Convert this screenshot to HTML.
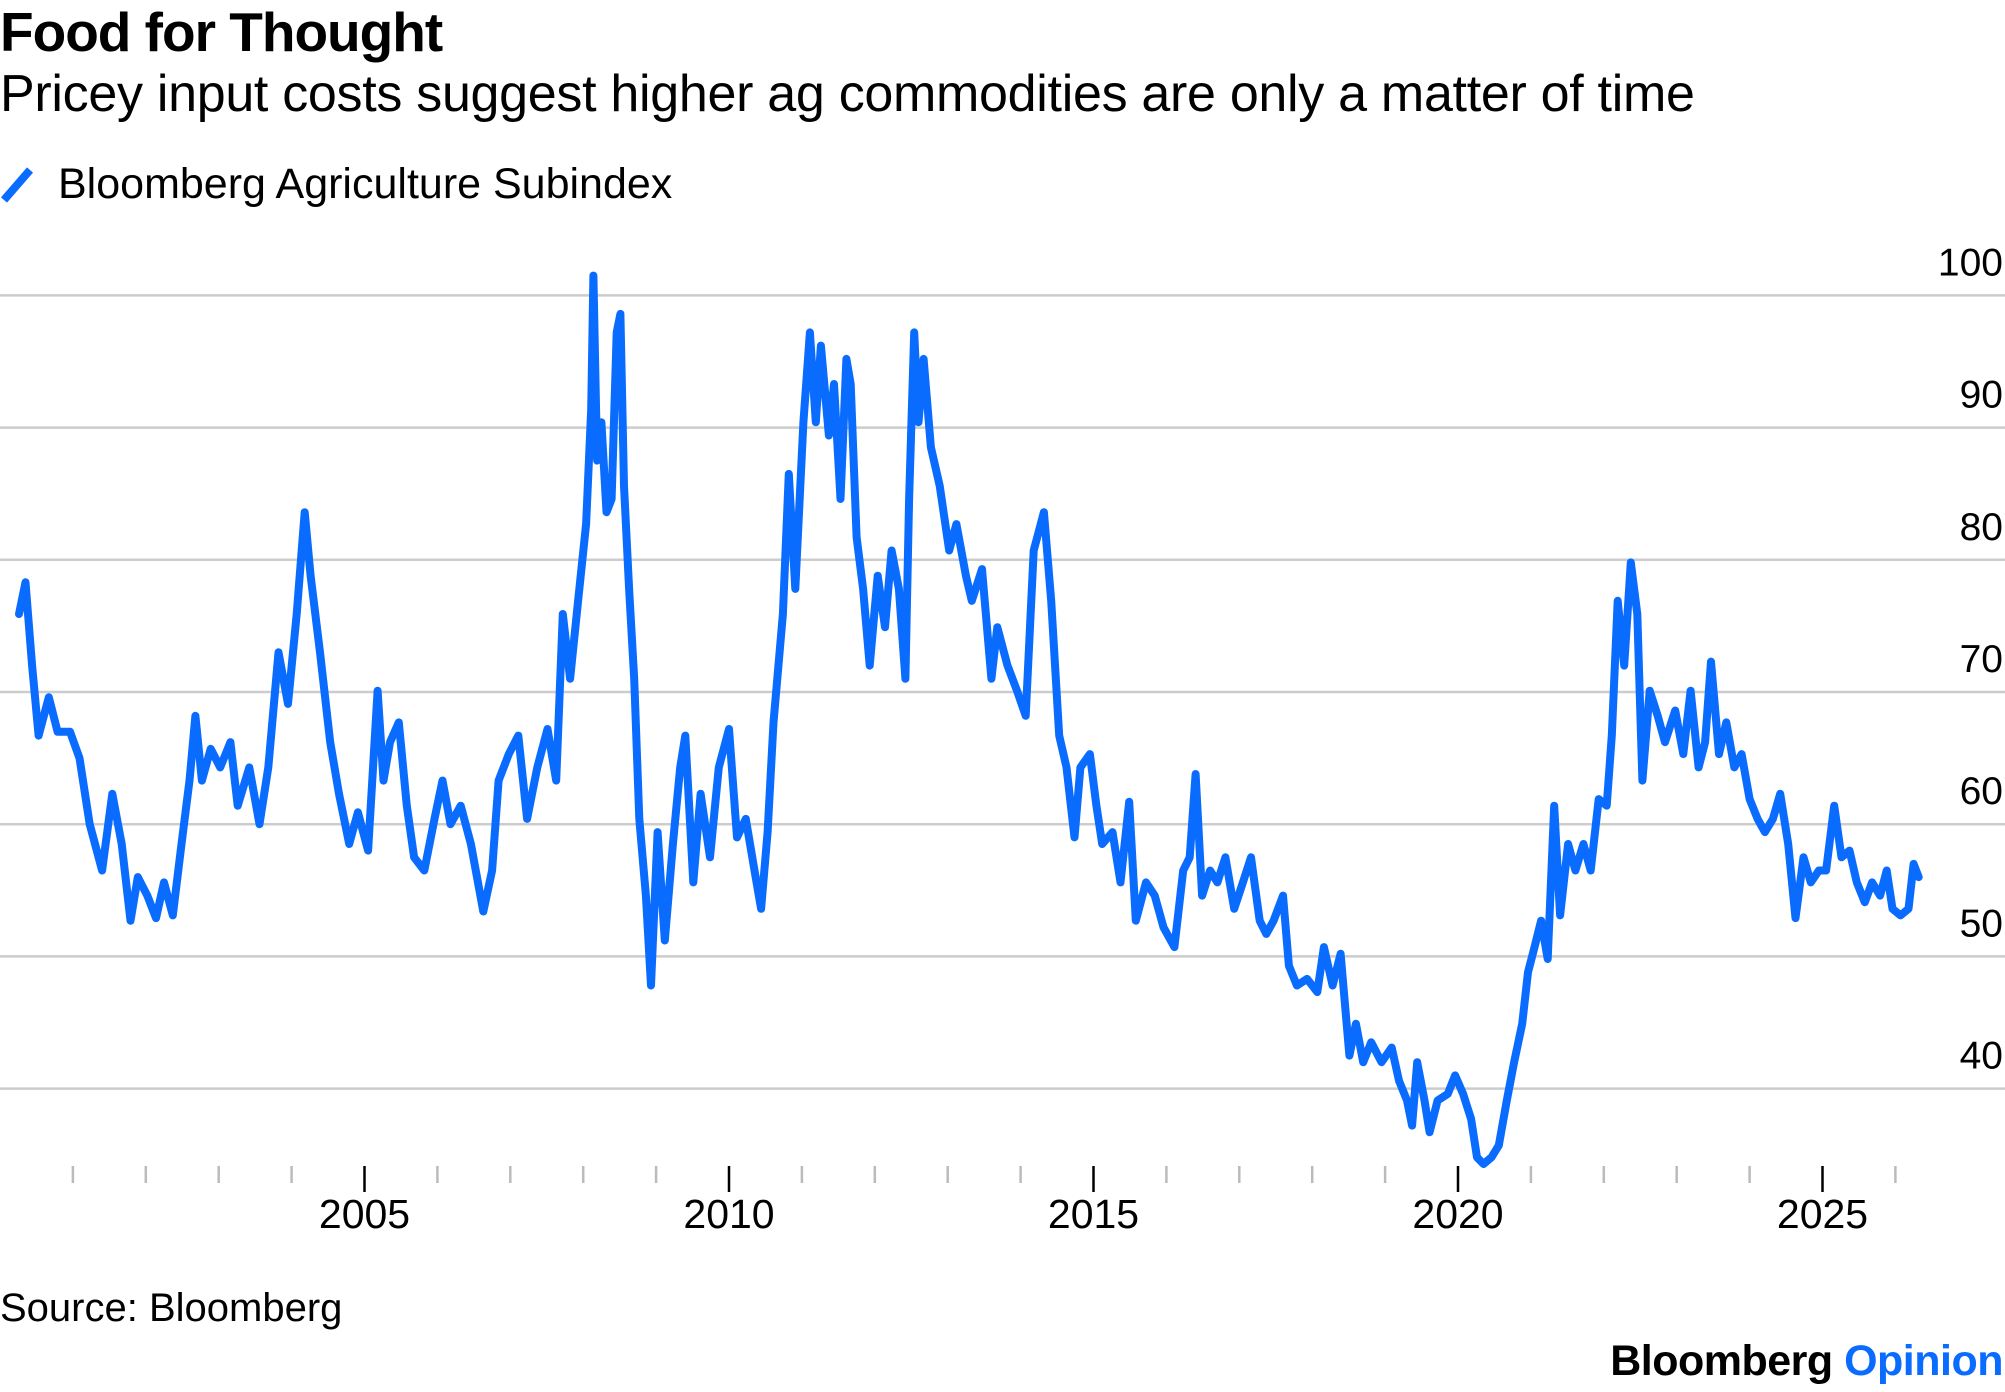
<!DOCTYPE html>
<html><head><meta charset="utf-8">
<style>
html,body{margin:0;padding:0;background:#fff;}
body{width:2005px;height:1392px;overflow:hidden;position:relative;font-family:"Liberation Sans",sans-serif;color:#000;}
.t{position:absolute;white-space:nowrap;}
</style></head><body>
<div class="t" style="left:0;top:0px;font-size:55px;font-weight:bold;letter-spacing:-1px;">Food for Thought</div>
<div class="t" style="left:0;top:64px;font-size:52px;letter-spacing:-0.3px;">Pricey input costs suggest higher ag commodities are only a matter of time</div>
<div class="t" style="left:0;top:160px;font-size:43px;">
<svg width="36" height="40" style="vertical-align:-6px;margin-right:22px"><line x1="4" y1="36" x2="30" y2="6" stroke="#0a6cff" stroke-width="8"/></svg>Bloomberg Agriculture Subindex</div>
<svg id="chart" width="2005" height="1392" style="position:absolute;left:0;top:0"></svg>
<div class="t" style="left:0;top:1286px;font-size:40px;">Source: Bloomberg</div>
<div class="t" style="right:2px;top:1337px;font-size:43px;font-weight:bold;letter-spacing:-0.5px;">Bloomberg <span style="color:#0a6cff">Opinion</span></div>
<script>
const yTicks=[40,50,60,70,80,90,100];
const xMajor=[2005,2010,2015,2020,2025];
const yearOffsets=[.26,.35,.44,.53,.67,.79,.96,1.09,1.23,1.40,1.54,1.67,1.79,1.89,2.02,2.14,2.25,2.37,2.49,2.60,2.68,2.77,2.89,3.02,3.16,3.26,3.42,3.56,3.68,3.82,3.95,4.07,4.18,4.26,4.39,4.53,4.65,4.79,4.91,5.05,5.18,5.26,5.35,5.47,5.58,5.68,5.82,5.96,6.07,6.18,6.32,6.46,6.63,6.75,6.84,6.98,7.11,7.23,7.37,7.51,7.63,7.72,7.82,7.93,8.04,8.11,8.14,8.19,8.25,8.32,8.39,8.46,8.51,8.56,8.63,8.70,8.77,8.86,8.93,9.02,9.12,9.23,9.33,9.40,9.51,9.61,9.74,9.86,10.0,10.11,10.23,10.35,10.44,10.53,10.61,10.74,10.82,10.91,11.02,11.11,11.19,11.26,11.37,11.44,11.53,11.61,11.67,11.75,11.84,11.93,12.04,12.14,12.23,12.33,12.42,12.47,12.54,12.60,12.67,12.77,12.89,13.02,13.12,13.25,13.33,13.47,13.60,13.68,13.82,13.95,14.07,14.18,14.32,14.42,14.53,14.63,14.74,14.82,14.95,15.04,15.12,15.26,15.37,15.49,15.58,15.72,15.84,15.96,16.11,16.23,16.32,16.40,16.49,16.60,16.70,16.81,16.93,17.05,17.16,17.28,17.37,17.47,17.60,17.68,17.79,17.93,18.07,18.16,18.28,18.39,18.51,18.60,18.70,18.81,18.95,19.09,19.19,19.30,19.37,19.44,19.54,19.61,19.72,19.86,19.96,20.07,20.18,20.26,20.35,20.46,20.56,20.67,20.77,20.88,20.96,21.05,21.14,21.23,21.32,21.40,21.51,21.61,21.72,21.82,21.93,22.04,22.11,22.19,22.28,22.37,22.46,22.53,22.63,22.74,22.84,22.98,23.09,23.19,23.30,23.39,23.47,23.58,23.68,23.79,23.89,24.0,24.11,24.21,24.32,24.42,24.53,24.63,24.74,24.84,24.95,25.05,25.16,25.26,25.37,25.47,25.58,25.68,25.79,25.88,25.96,26.07,26.18,26.25,26.32];
const values=[75.9,78.3,72,66.7,69.6,67,67,65,60,56.5,62.3,58.5,52.7,56,54.6,52.9,55.6,53.1,58.5,63.3,68.2,63.3,65.7,64.3,66.2,61.4,64.3,60,64.3,73,69.1,75.9,83.6,78.8,73,66.2,62.3,58.5,60.9,58,70.1,63.3,66.2,67.7,61.4,57.5,56.5,60.4,63.3,60,61.4,58.5,53.4,56.5,63.3,65.3,66.7,60.4,64.3,67.2,63.3,75.9,71,76.9,82.7,91.4,101.5,87.5,90.4,83.6,84.6,97.2,98.6,85.6,77.8,71,60.4,54.6,47.8,59.4,51.2,58.5,64.3,66.7,55.6,62.3,57.5,64.3,67.2,59,60.4,56.5,53.6,59.4,67.7,75.9,86.5,77.8,90.4,97.2,90.4,96.2,89.4,93.3,84.6,95.2,93.3,81.7,77.8,72,78.8,74.9,80.7,77.8,71,84.6,97.2,90.4,95.2,88.5,85.6,80.7,82.7,78.8,76.9,79.3,71,74.9,72,70.1,68.2,80.7,83.6,76.9,66.7,64.3,59,64.3,65.3,61.4,58.5,59.4,55.6,61.7,52.7,55.6,54.6,52.2,50.7,56.5,57.5,63.8,54.6,56.5,55.6,57.5,53.6,55.6,57.5,52.7,51.7,52.7,54.6,49.3,47.8,48.3,47.3,50.7,47.8,50.2,42.5,44.9,42,43.5,42,43.1,40.6,39.1,37.2,42,39.1,36.7,39.1,39.6,41,39.6,37.7,34.8,34.3,34.8,35.7,39.1,42,44.9,48.8,50.7,52.7,49.8,61.4,53.1,58.5,56.5,58.5,56.5,61.9,61.4,66.7,76.9,72,79.8,75.9,63.3,70.1,68.2,66.2,68.6,65.3,70.1,64.3,66.2,72.3,65.3,67.7,64.3,65.3,61.9,60.4,59.4,60.4,62.3,58.5,52.9,57.5,55.6,56.5,56.5,61.4,57.5,58,55.6,54.1,55.6,54.6,56.5,53.6,53.1,53.6,57,56];

const NS='http://www.w3.org/2000/svg';
const svg=document.getElementById('chart');
const xs=yr=>(yr-2000)*72.9;
const ys=v=>295.4+(100-v)*13.22;
function mk(tag,attrs){const e=document.createElementNS(NS,tag);for(const k in attrs)e.setAttribute(k,attrs[k]);svg.appendChild(e);return e;}
yTicks.forEach(v=>{
  const g=mk('line',{x1:0,x2:2005,y1:ys(v),y2:ys(v),stroke:'#cccccc','stroke-width':2.5});
  
  
  const t=mk('text',{x:2003,y:ys(v)-20,'text-anchor':'end','font-size':39,'font-family':'Liberation Sans, sans-serif'});
  t.textContent=v;
  
  
});
for(let yr=2001;yr<=2026;yr++){
  const major=xMajor.includes(yr);
  const tk=mk('line',{x1:xs(yr),x2:xs(yr),y1:1166,y2:major?1192:1183,stroke:major?'#000':'#bbbbbb','stroke-width':2.5});
  
  
}
xMajor.forEach(yr=>{
  const t=mk('text',{x:xs(yr),y:1228,'text-anchor':'middle','font-size':41,'font-family':'Liberation Sans, sans-serif'});
  t.textContent=yr;
  
  
});
let d='';
values.forEach((v,i)=>{d+=(i?'L':'M')+xs(2000+yearOffsets[i]).toFixed(1)+' '+ys(v).toFixed(1);});
const p=mk('path',{d:d,fill:'none',stroke:'#0a6cff','stroke-width':8,'stroke-linejoin':'round','stroke-linecap':'round'});


</script>
</body></html>
